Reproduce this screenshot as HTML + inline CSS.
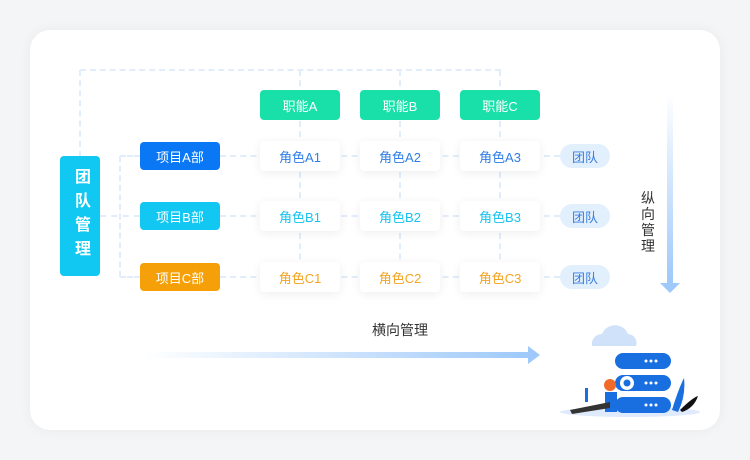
<!DOCTYPE html>
<html><head><meta charset="utf-8"><style>
body{margin:0;width:750px;height:460px;background:#f4f5f7;font-family:"Liberation Sans","Noto Sans CJK SC",sans-serif;position:relative;overflow:hidden}
.card{position:absolute;left:30px;top:30px;width:690px;height:400px;background:#fff;border-radius:20px;box-shadow:0 0 12px rgba(0,0,0,.05)}
.n{position:absolute;display:flex;align-items:center;justify-content:center;font-size:13px;border-radius:4px}
.p{width:80px;height:28px;color:#fff;left:140px}
.f{width:80px;height:30px;top:90px;background:#19e0a8;color:#fff}
.r{width:80px;height:30px;background:#fff;box-shadow:0 2px 10px rgba(0,0,0,.07)}
.t{left:560px;width:50px;height:24px;border-radius:12px;background:#e2effd;color:#3a7ee0;font-size:13px}
.dh{position:absolute;border-top:2px dashed #e2edfb;height:0}
.dv{position:absolute;border-left:2px dashed #e2edfb;width:0}
</style></head><body>
<div class="card"></div>
<div class="dh" style="left:80px;top:69px;width:421px"></div>
<div class="dv" style="left:79px;top:70px;height:87px"></div>
<div class="dv" style="left:299px;top:70px;height:220px"></div>
<div class="dv" style="left:399px;top:70px;height:220px"></div>
<div class="dv" style="left:499px;top:70px;height:220px"></div>
<div class="dv" style="left:119px;top:156px;height:121px"></div>
<div class="dh" style="left:120px;top:155px;width:20px"></div>
<div class="dh" style="left:100px;top:215px;width:40px"></div>
<div class="dh" style="left:120px;top:276px;width:20px"></div>
<div class="dh" style="left:220px;top:155px;width:340px"></div>
<div class="dh" style="left:220px;top:215px;width:340px"></div>
<div class="dh" style="left:220px;top:276px;width:340px"></div>

<div class="n" style="left:60px;top:156px;width:40px;height:120px;background:#10c8f2;color:#fff;font-size:16px;font-weight:bold;line-height:26px;writing-mode:vertical-rl;letter-spacing:8px">团队管理</div>
<div class="n p" style="top:142px;background:#0a78f5">项目A部</div>
<div class="n p" style="top:202px;background:#12c8f3">项目B部</div>
<div class="n p" style="top:263px;background:#f5a009">项目C部</div>

<div class="n f" style="left:260px">职能A</div>
<div class="n f" style="left:360px">职能B</div>
<div class="n f" style="left:460px">职能C</div>

<div class="n r" style="left:260px;top:141px;color:#2f7ee6">角色A1</div>
<div class="n r" style="left:360px;top:141px;color:#2f7ee6">角色A2</div>
<div class="n r" style="left:460px;top:141px;color:#2f7ee6">角色A3</div>
<div class="n r" style="left:260px;top:201px;color:#16c3f0">角色B1</div>
<div class="n r" style="left:360px;top:201px;color:#16c3f0">角色B2</div>
<div class="n r" style="left:460px;top:201px;color:#16c3f0">角色B3</div>
<div class="n r" style="left:260px;top:262px;color:#f3a422">角色C1</div>
<div class="n r" style="left:360px;top:262px;color:#f3a422">角色C2</div>
<div class="n r" style="left:460px;top:262px;color:#f3a422">角色C3</div>

<div class="n t" style="top:144px">团队</div>
<div class="n t" style="top:204px">团队</div>
<div class="n t" style="top:265px">团队</div>

<div style="position:absolute;left:641px;top:190px;width:14px;font-size:14px;line-height:16px;color:#333">纵向管理</div>
<div style="position:absolute;left:372px;top:320px;font-size:14px;color:#333">横向管理</div>

<svg width="750" height="460" style="position:absolute;left:0;top:0">
<defs>
<linearGradient id="gv" x1="0" y1="0" x2="0" y2="1"><stop offset="0" stop-color="#fff"/><stop offset="1" stop-color="#9ec9fa"/></linearGradient>
<linearGradient id="gh" x1="0" y1="0" x2="1" y2="0"><stop offset="0" stop-color="#fff"/><stop offset="1" stop-color="#9ec9fa"/></linearGradient>
</defs>
<rect x="667" y="93" width="6" height="190" fill="url(#gv)"/>
<polygon points="660,283 680,283 670,293" fill="#9ec9fa"/>
<rect x="145" y="352" width="385" height="6" fill="url(#gh)"/>
<polygon points="528,346 540,355 528,364" fill="#9ec9fa"/>
<ellipse cx="630" cy="412" rx="70" ry="5" fill="#dfeafc"/>
<path d="M592 346 a10 10 0 0 1 10-12 a14 14 0 0 1 26 0 a9 9 0 0 1 8 12z" fill="#cfe2fa"/>
<rect x="615" y="353" width="56" height="16" rx="8" fill="#1a6fe0"/>
<rect x="615" y="375" width="56" height="16" rx="8" fill="#1a6fe0"/>
<rect x="615" y="397" width="56" height="16" rx="8" fill="#1a6fe0"/>
<g fill="#fff"><circle cx="646" cy="361" r="1.5"/><circle cx="651" cy="361" r="1.5"/><circle cx="656" cy="361" r="1.5"/>
<circle cx="646" cy="383" r="1.5"/><circle cx="651" cy="383" r="1.5"/><circle cx="656" cy="383" r="1.5"/>
<circle cx="646" cy="405" r="1.5"/><circle cx="651" cy="405" r="1.5"/><circle cx="656" cy="405" r="1.5"/></g>
<circle cx="627" cy="383" r="7" fill="#fff"/><circle cx="627" cy="383" r="3.5" fill="#1a6fe0"/>
<path d="M672 410 q6-20 12-32 q2 18-6 34z" fill="#1a6fe0"/>
<path d="M680 410 q12-12 18-14 q-4 12-16 16z" fill="#111"/>
<circle cx="610" cy="385" r="6" fill="#f06a2a"/>
<path d="M605 392 l12 0 l0 20 l-12 0z" fill="#1a6fe0"/>
<path d="M570 410 l40-8 l0 6 l-38 6z" fill="#333"/>
<rect x="585" y="388" width="3" height="14" fill="#1a6fe0"/>
</svg>
</body></html>
